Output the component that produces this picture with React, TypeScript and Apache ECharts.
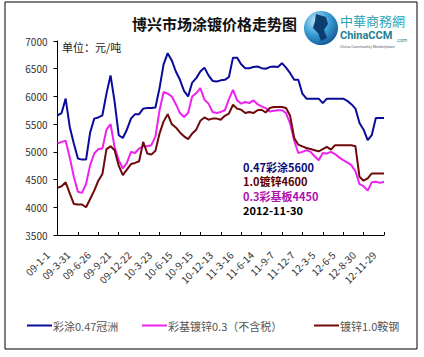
import React, { useEffect, useRef } from "react";
import * as echarts from "echarts";

const tickLabels = [
  "09-1-1", "09-3-31", "09-6-26", "09-9-21", "09-12-22", "10-3-23", "10-6-15", "10-9-15",
  "10-12-13", "11-3-16", "11-6-14", "11-9-7", "11-12-7", "12-3-5", "12-6-5", "12-8-30", "12-11-29",
];

const seriesNames = ["彩涂0.47冠洲", "彩基镀锌0.3（不含税）", "镀锌1.0鞍钢"];

const blueValues = [
  5660, 5700, 5960, 5450, 5150, 4880, 4860, 4860, 5350, 5600,
  5620, 5660, 6050, 6380, 5900, 5300, 5250, 5400, 5600, 5680,
  5680, 5780, 5790, 5790, 5800, 6150, 6580, 6780, 6650, 6450,
  6300, 6100, 6000, 6250, 6330, 6450, 6520, 6380, 6280, 6270,
  6290, 6300, 6350, 6700, 6700, 6580, 6510, 6510, 6530, 6540,
  6510, 6500, 6530, 6540, 6530, 6600, 6520, 6420, 6300, 6300,
  6050, 5960, 5960, 5960, 5960, 5880, 5960, 5960, 5960, 5960,
  5960, 5920, 5860, 5780, 5520, 5400, 5210, 5300, 5610, 5610,
  5610,
];

const magentaValues = [
  5150, 5180, 5200, 4900, 4550, 4280, 4260, 4420, 4760, 4970,
  5050, 5060, 5400, 5500, 5080, 4850, 4700, 4800, 5000, 4980,
  5060, 5100, 5100, 5120, 5280, 5750, 6080, 6050, 6000, 5860,
  5700, 5630, 5700, 6000, 6060, 6150, 5940, 5870, 5720, 5700,
  5720, 5750, 5950, 6120, 5930, 5870, 5900, 5880, 5930, 5860,
  5820, 5790, 5730, 5740, 5750, 5750, 5700, 5510, 5200, 4980,
  5000, 5030, 5000, 4920, 4850, 4980, 4970, 5000, 4960, 4900,
  4850, 4810, 4760, 4650, 4420, 4380, 4300, 4450, 4460, 4440,
  4460,
];

const redValues = [
  4350, 4380, 4450, 4250, 4060, 4050, 4050, 4000, 4150, 4300,
  4480, 4600, 5050, 5100, 5030, 4750, 4580, 4680, 4780, 4800,
  4830, 5180, 4970, 4950, 5020, 5330, 5550, 5680, 5500, 5440,
  5350, 5280, 5230, 5330, 5400, 5560, 5620, 5580, 5600, 5600,
  5580, 5650, 5690, 5850, 5780, 5760, 5700, 5720, 5700, 5750,
  5760, 5710, 5790, 5810, 5810, 5810, 5790, 5650, 5250, 5130,
  5100, 5070, 5050, 5030, 5010, 5050, 5090, 5040, 5120, 5120,
  5120, 5120, 5120, 5100, 4550, 4480, 4520, 4610, 4610, 4610,
  4610,
];

const yTicks = { min: 3500, max: 7000, interval: 500 };

const colors = ["#0a0a9c", "#ee22ee", "#6e0a0a"];

const annotations = [
  { text: "0.47彩涂5600", color: "#0a0a7a" },
  { text: "1.0镀锌4600", color: "#5a0000" },
  { text: "0.3彩基板4450", color: "#b010b0" },
  { text: "2012-11-30", color: "#000000" },
];

const FONT = "'Noto Sans CJK SC', 'Noto Sans', sans-serif";

export default function App() {
  const ref = useRef<HTMLDivElement>(null);

  useEffect(() => {
    if (!ref.current) return;
    const chart = echarts.init(ref.current, null, { renderer: "svg" });
    const n = blueValues.length;
    const categories = Array.from({ length: n }, (_, i) => String(i));
    const legendX = [27, 142, 314];

    chart.setOption({
      animation: false,
      backgroundColor: "#ffffff",
      textStyle: { fontFamily: FONT },
      title: {
        text: "博兴市场涂镀价格走势图",
        left: 127,
        top: 11,
        textStyle: { fontSize: 15, fontWeight: "bold", color: "#111", fontFamily: FONT },
      },
      grid: { left: 57.5, right: 40, top: 41, bottom: 122, containLabel: false },
      legend: seriesNames.map((name, k) => ({
        data: [name],
        left: legendX[k],
        top: 320,
        icon: "rect",
        itemWidth: 25,
        itemHeight: 2,
        itemGap: 2,
        padding: 0,
        textStyle: { fontSize: 11, color: "#555", fontFamily: FONT, padding: [0, 0, 0, -4] },
      })),
      xAxis: {
        type: "category",
        data: categories,
        boundaryGap: false,
        axisLine: { lineStyle: { color: "#000", width: 1 } },
        axisTick: { show: true, inside: true, length: 3, interval: 4, lineStyle: { color: "#000" } },
        axisLabel: {
          interval: 4,
          rotate: 45,
          fontSize: 10,
          color: "#333",
          margin: 8,
          padding: [0, 14, 0, 0],
          formatter: (_v: string, idx: number) => tickLabels[Math.round(idx / 5)] ?? "",
        },
        splitLine: { show: false },
      },
      yAxis: {
        type: "value",
        min: yTicks.min,
        max: yTicks.max,
        interval: yTicks.interval,
        axisLine: { show: true, lineStyle: { color: "#000", width: 1 } },
        axisTick: { show: true, length: 4, lineStyle: { color: "#000" } },
        axisLabel: { fontSize: 10, color: "#333", margin: 10, formatter: (v: number) => String(v) },
        splitLine: { show: false },
      },
      series: [
        { name: seriesNames[0], type: "line", data: blueValues, symbol: "none", lineStyle: { color: colors[0], width: 2 }, itemStyle: { color: colors[0] } },
        { name: seriesNames[1], type: "line", data: magentaValues, symbol: "none", lineStyle: { color: colors[1], width: 2 }, itemStyle: { color: colors[1] } },
        { name: seriesNames[2], type: "line", data: redValues, symbol: "none", lineStyle: { color: colors[2], width: 2 }, itemStyle: { color: colors[2] } },
      ],
      graphic: [
        {
          type: "rect",
          shape: { x: 5, y: 2, width: 412, height: 347 },
          style: { fill: "none", stroke: "#000", lineWidth: 1 },
          silent: true,
        },
        {
          type: "text",
          left: 62,
          top: 41,
          style: { text: "单位：元/吨", fontSize: 11, fill: "#222", fontFamily: FONT },
        },
        ...annotations.map((a, k) => ({
          type: "text",
          left: 243,
          top: 161 + k * 14.5,
          style: { text: a.text, fontSize: 11, fontWeight: "bold", fill: a.color, fontFamily: FONT },
        })),
        {
          type: "circle",
          shape: { cx: 321, cy: 28, r: 17 },
          style: {
            fill: new echarts.graphic.RadialGradient(0.35, 0.3, 0.8, [
              { offset: 0, color: "#bfe6f7" },
              { offset: 0.5, color: "#3a9fd6" },
              { offset: 1, color: "#0d4f8f" },
            ]),
          },
          silent: true,
        },
        {
          type: "polygon",
          shape: { points: [[316, 14], [326, 17], [328, 24], [324, 30], [327, 38], [321, 41], [318, 33], [313, 28], [315, 21]] },
          style: { fill: "#0b3e6e" },
          silent: true,
        },
        {
          type: "text",
          left: 340,
          top: 14,
          style: { text: "中華商務網", fontSize: 13, fill: "#2aa3b6", fontFamily: FONT },
        },
        {
          type: "text",
          left: 340,
          top: 30,
          style: { text: "ChinaCCM", fontSize: 11, fontWeight: "bold", fill: "#1e7f95", fontFamily: "Roboto, sans-serif" },
        },
        {
          type: "text",
          left: 396,
          top: 37,
          style: { text: ".com", fontSize: 5, fill: "#1e7f95", fontFamily: "Roboto, sans-serif" },
        },
        {
          type: "text",
          left: 340,
          top: 44,
          style: { text: "China Commodity Marketplace", fontSize: 4, fill: "#667", fontFamily: "Roboto, sans-serif" },
        },
      ],
    });

    return () => chart.dispose();
  }, []);

  return <div ref={ref} style={{ width: 424, height: 357, position: "absolute", left: 0, top: 0 }} />;
}
